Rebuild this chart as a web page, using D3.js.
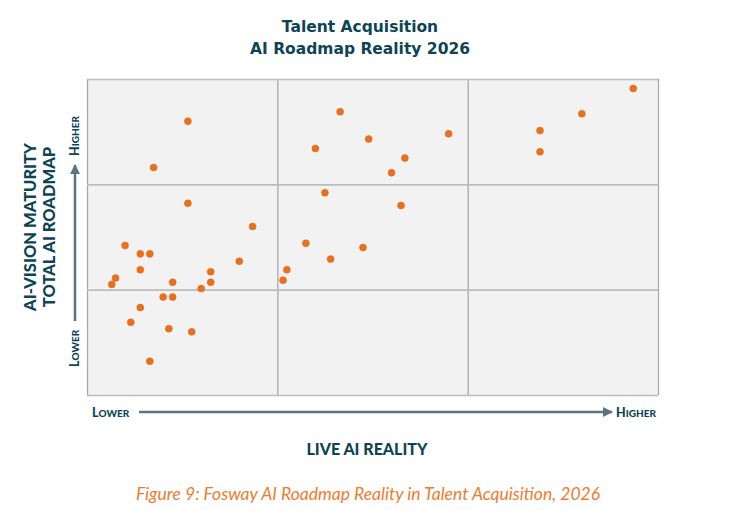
<!DOCTYPE html>
<html>
<head>
<meta charset="utf-8">
<script src="https://cdn.jsdelivr.net/npm/d3@7"></script>
<style>
  body { margin: 0; background: #fff; }
  svg text { font-family: Lato, "Open Sans", sans-serif; }
</style>
</head>
<body>
<div id="chart"></div>
<script>
// Live AI reality (x) vs AI-vision maturity (y), both on a 0-3 grid (three bands each)
const realityX = [0.53, 0.35, 0.53, 0.87, 0.20, 0.28, 0.33, 0.80, 0.28, 0.65,
  0.15, 0.13, 0.45, 0.65, 0.60, 0.40, 0.45, 0.28, 0.23, 0.43,
  0.55, 0.33, 1.33, 1.48, 1.90, 1.20, 1.67, 1.60, 1.25, 1.65,
  1.15, 1.45, 1.28, 1.05, 1.03, 2.87, 2.60, 2.38, 2.38];
const visionY = [2.60, 2.16, 1.82, 1.60, 1.42, 1.34, 1.34, 1.27, 1.19, 1.17,
  1.11, 1.05, 1.07, 1.07, 1.01, 0.93, 0.93, 0.83, 0.69, 0.63,
  0.60, 0.32, 2.69, 2.43, 2.48, 2.34, 2.25, 2.11, 1.92, 1.80,
  1.44, 1.40, 1.29, 1.19, 1.09, 2.91, 2.67, 2.51, 2.31];
const bandTicks = [0, 1, 2, 3];
const titleLines = ['Talent Acquisition', 'AI Roadmap Reality 2026'];
const yTitleLines = ['AI-VISION MATURITY', 'TOTAL AI ROADMAP'];
const xTitle = 'LIVE AI REALITY';
const caption = 'Figure 9: Fosway AI Roadmap Reality in Talent Acquisition, 2026';

const points = realityX.map((x, i) => ({ x, y: visionY[i] }));

const W = 738, H = 510;
const margin = { top: 79, right: 80, bottom: 115, left: 87 };
const width = W - margin.left - margin.right;
const height = H - margin.top - margin.bottom;
const dark = '#0d4456', arrowCol = '#5b7580', orange = '#ec701c';

const svg = d3.select('#chart').append('svg')
  .attr('width', W)
  .attr('height', H);

svg.append('defs').append('marker')
  .attr('id', 'head')
  .attr('viewBox', '0 0 10 10')
  .attr('refX', 9).attr('refY', 5)
  .attr('markerWidth', 4).attr('markerHeight', 4)
  .attr('orient', 'auto')
  .append('path')
  .attr('d', 'M0,0L10,5L0,10Z')
  .attr('fill', arrowCol);

const x = d3.scaleLinear().domain([0, 3]).range([0, width]);
const y = d3.scaleLinear().domain([0, 3]).range([height, 0]);

const g = svg.append('g')
  .attr('transform', `translate(${margin.left},${margin.top})`);

g.append('rect')
  .attr('width', width)
  .attr('height', height)
  .attr('fill', '#f2f2f2');

// grid
g.append('g')
  .attr('transform', `translate(0,${height})`)
  .call(d3.axisBottom(x).tickValues(bandTicks).tickSize(-height).tickFormat(''))
  .call(s => s.select('.domain').remove())
  .selectAll('line').attr('stroke', '#a9a9a9').attr('stroke-width', 1.3);

g.append('g')
  .call(d3.axisLeft(y).tickValues(bandTicks).tickSize(-width).tickFormat(''))
  .call(s => s.select('.domain').remove())
  .selectAll('line').attr('stroke', '#bdbdbd').attr('stroke-width', 1.6);

g.selectAll('.dot')
  .data(points)
  .enter().append('circle')
  .attr('class', 'dot')
  .attr('cx', d => x(d.x))
  .attr('cy', d => y(d.y))
  .attr('r', 3.5)
  .attr('fill', orange)
  .attr('stroke', '#d8661a')
  .attr('stroke-width', 0.5);

// title
svg.append('text')
  .attr('x', 361).attr('text-anchor', 'middle')
  .attr('fill', dark)
  .style('font-family', '"DejaVu Sans", sans-serif')
  .style('font-size', '15.5px').style('font-weight', 'bold')
  .selectAll('tspan').data(titleLines).enter().append('tspan')
  .attr('x', 360)
  .attr('y', (d, i) => 32 + i * 22)
  .text(d => d);

// small caps helper
function smallCaps(sel, word) {
  sel.append('tspan').style('font-size', '12.5px').text(word[0]);
  sel.append('tspan').style('font-size', '10px').text(word.slice(1));
}

// x direction arrow
svg.append('line')
  .attr('x1', 139).attr('x2', 612)
  .attr('y1', 412).attr('y2', 412)
  .attr('stroke', arrowCol).attr('stroke-width', 2.5)
  .attr('marker-end', 'url(#head)');

svg.append('text').attr('x', 92).attr('y', 417)
  .attr('fill', dark).style('font-weight', 900)
  .call(smallCaps, 'LOWER');
svg.append('text').attr('x', 616).attr('y', 417)
  .attr('fill', dark).style('font-weight', 900)
  .call(smallCaps, 'HIGHER');

svg.append('text')
  .attr('x', 367).attr('y', 455)
  .attr('text-anchor', 'middle')
  .attr('fill', dark)
  .style('font-size', '16px').style('font-weight', 900)
  .text(xTitle);

// y direction arrow
svg.append('line')
  .attr('x1', 75).attr('x2', 75)
  .attr('y1', 321).attr('y2', 165)
  .attr('stroke', arrowCol).attr('stroke-width', 2.5)
  .attr('marker-end', 'url(#head)');

svg.append('text')
  .attr('transform', 'translate(79,367) rotate(-90)')
  .attr('fill', dark).style('font-weight', 900)
  .call(smallCaps, 'LOWER');
svg.append('text')
  .attr('transform', 'translate(79,156) rotate(-90)')
  .attr('fill', dark).style('font-weight', 900)
  .call(smallCaps, 'HIGHER');

svg.append('text')
  .attr('transform', 'translate(0,227) rotate(-90)')
  .attr('text-anchor', 'middle')
  .attr('fill', dark)
  .style('font-size', '16.5px').style('font-weight', 900)
  .selectAll('tspan').data(yTitleLines).enter().append('tspan')
  .attr('x', 0)
  .attr('y', (d, i) => 36 + i * 19)
  .text(d => d);

// caption
svg.append('text')
  .attr('x', 368).attr('y', 500)
  .attr('text-anchor', 'middle')
  .attr('fill', '#ee7b2f')
  .style('font-size', '17.5px').style('font-style', 'italic')
  .style('font-weight', 400)
  .text(caption);
</script>
</body>
</html>
